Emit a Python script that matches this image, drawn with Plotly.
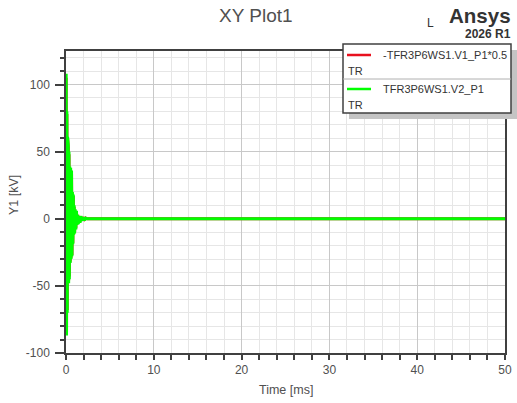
import plotly.graph_objects as go

# ---- data ----
time_ms = [0.0, 0.02, 0.06, 0.10, 0.14, 0.18, 0.22, 0.26, 0.30, 0.34, 0.38, 0.43, 0.48,
           0.53, 0.58, 0.63, 0.68, 0.73, 0.78, 0.83, 0.88, 0.93, 0.98, 1.05, 1.12,
           1.19, 1.26, 1.33, 1.40, 1.50, 1.60, 1.70, 1.80, 1.95, 2.10, 2.25, 2.40, 50.0]
v2_kV = [0, 108, -87, 80, -70, 61, -52, 55, -48, 50, -45, 39, -33,
         38, -30, 36, -28, 20, -19, 18, -12, 10, -11, 7, -8,
         6, -4.5, 3, -4, 2, -3, 2, -1.5, 1, -1, 0.5, 0, 0]
v1_kV = [0, 105, -85, 78, -68, 60, -50, 53, -46, 48, -43, 37, -32,
         36, -29, 34, -27, 19, -18, 17, -11, 9, -10, 6, -7,
         5, -4, 3, -3, 2, -2, 1.5, -1, 1, -0.5, 0.5, 0, 0]
series_names = ["-TFR3P6WS1.V1_P1*0.5", "TFR3P6WS1.V2_P1"]
series_colors = ["#e8101e", "#00ff00"]
x_ticks = [0, 10, 20, 30, 40, 50]
y_ticks = [-100, -50, 0, 50, 100]
y_tick_text = ["-100", "-50", "0", "50", "100"]

W, H = 517, 403
L, R, T, B = 66, 505, 51, 353

def px(x):
    return (x - L) / (R - L)

def py(y):
    return (B - y) / (B - T)

fig = go.Figure()
fig.add_trace(go.Scatter(x=time_ms, y=v1_kV, mode="lines",
                         line=dict(color=series_colors[0], width=3), showlegend=False))
fig.add_trace(go.Scatter(x=time_ms, y=v2_kV, mode="lines",
                         line=dict(color=series_colors[1], width=3), showlegend=False))

FONT = "Liberation Sans, Arial, sans-serif"
axis_font = dict(family=FONT, size=12, color="#505050")
fig.update_layout(
    width=W, height=H,
    margin=dict(l=L, r=W - R, t=T, b=H - B, pad=0, autoexpand=False),
    paper_bgcolor="white", plot_bgcolor="white",
    font=dict(family=FONT, color="#444444"),
    showlegend=False,
)
fig.update_xaxes(range=[0, 50], tickvals=x_ticks, ticks="outside", ticklen=5, tickwidth=1.5,
                 tickcolor="#404040", showline=True, linecolor="#404040", linewidth=1.5,
                 mirror=True, showgrid=True, gridcolor="#c8c8c8", gridwidth=1, zeroline=False,
                 tickfont=axis_font, automargin=False,
                 minor=dict(dtick=2, ticks="outside", ticklen=5, tickwidth=1.5, tickcolor="#404040",
                            showgrid=True, gridcolor="#e6e6e6", gridwidth=1))
fig.update_yaxes(range=[-100, 125], tickvals=y_ticks, ticktext=y_tick_text, ticks="outside",
                 ticklen=9, tickwidth=1.5, ticklabelstandoff=3,
                 tickcolor="#404040", showline=True, linecolor="#404040", linewidth=1.5,
                 mirror=True, showgrid=True, gridcolor="#c8c8c8", gridwidth=1, zeroline=False,
                 tickfont=axis_font, automargin=False,
                 minor=dict(dtick=10, ticks="outside", ticklen=4, tickwidth=1.5, tickcolor="#404040",
                            showgrid=True, gridcolor="#e6e6e6", gridwidth=1))

ann = []
def text(x, y, s, size, xanchor="center", bold=False, color="#444444", angle=0):
    ann.append(dict(xref="paper", yref="paper", x=px(x), y=py(y), text=(f"<b>{s}</b>" if bold else s),
                    showarrow=False, xanchor=xanchor, yanchor="middle", textangle=angle,
                    borderpad=0,
                    font=dict(family=FONT, size=size, color=color)))

text(255.5, 15, "XY Plot1", 19, color="#505050")
text(430, 23, "L", 12, color="#333333")
text(512, 15.5, "Ansys", 20.5, xanchor="right", bold=True, color="#333333")
text(512, 34, "2026 R1", 12, xanchor="right", bold=True, color="#333333")
text(285.5, 390, "Time [ms]", 12.5, color="#505050")
text(14, 195, "Y1 [kV]", 12.5, color="#505050", angle=-90)

# legend
shapes = []
shapes.append(dict(type="rect", xref="paper", yref="paper", x0=px(349), x1=px(518), y0=py(50), y1=py(119),
                   fillcolor="#c4c4c4", line=dict(width=0), layer="above"))
shapes.append(dict(type="rect", xref="paper", yref="paper", x0=px(343), x1=px(511), y0=py(44), y1=py(113),
                   fillcolor="white", line=dict(color="#404040", width=1.5), layer="above"))
shapes.append(dict(type="line", xref="paper", yref="paper", x0=px(343), x1=px(511), y0=py(79), y1=py(79),
                   line=dict(color="#b0b0b0", width=1), layer="above"))
for i, (name, col) in enumerate(zip(series_names, series_colors)):
    yc = 55 + 34 * i
    shapes.append(dict(type="line", xref="paper", yref="paper", x0=px(347), x1=px(371), y0=py(yc), y1=py(yc),
                       line=dict(color=col, width=2.5), layer="above"))
    text(382, yc, name, 11, xanchor="left", color="#333333")
    text(347, yc + 16, "TR", 11, xanchor="left", color="#333333")

fig.update_layout(annotations=ann, shapes=shapes)
fig.write_html("out.html")
